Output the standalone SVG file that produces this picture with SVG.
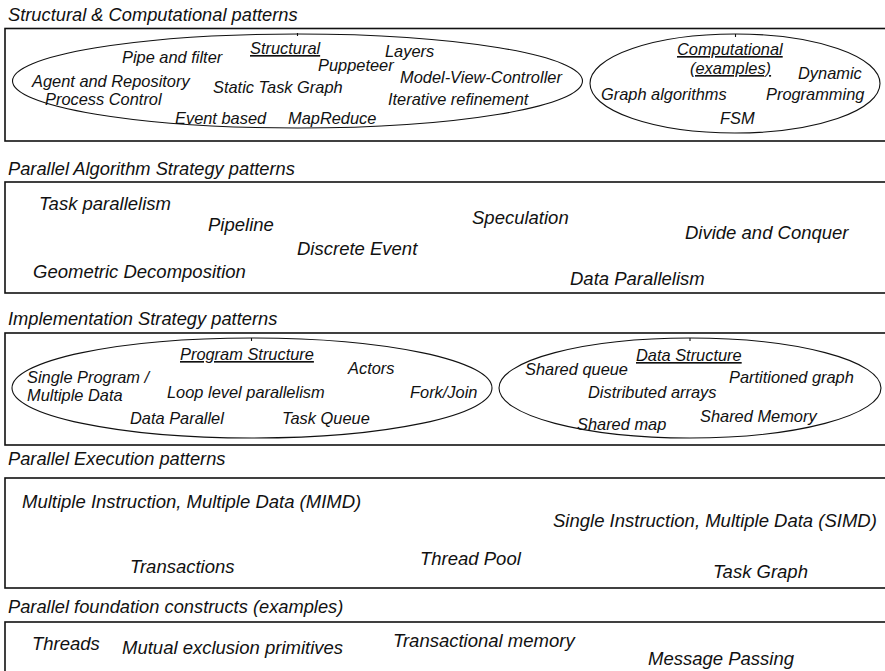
<svg xmlns="http://www.w3.org/2000/svg" width="885" height="671" viewBox="0 0 885 671">
  <style>
    text { font-family: "Liberation Sans", Arial, Helvetica, sans-serif; font-style: italic; fill: #111; }
    .title { font-size: 18.3px; }
    .item { font-size: 16.4px; }
    .big { font-size: 18.5px; }
    .head { font-size: 16.4px; text-decoration: underline; }
    .layer { fill: none; stroke: #111; stroke-width: 1.6; }
    .group { fill: none; stroke: #111; stroke-width: 1.1; }
  </style>
  <rect width="885" height="671" fill="#fff"/>

  <!-- Layer 1: structural and computational patterns -->
  <g id="layer-structural">
    <text class="title" x="8" y="21">Structural &amp; Computational patterns</text>
    <rect class="layer" x="5" y="28.5" width="890" height="112.5"/>
    <g id="structural">
      <ellipse class="group" cx="297.5" cy="81" rx="285" ry="47"/>
      <path class="group" d="M297.5 33v3"/>
      <text class="head" x="250" y="54">Structural</text>
      <text class="item" x="122" y="63">Pipe and filter</text>
      <text class="item" x="385" y="57">Layers</text>
      <text class="item" x="318" y="71">Puppeteer</text>
      <text class="item" x="400" y="83">Model-View-Controller</text>
      <text class="item" x="32" y="87">Agent and Repository</text>
      <text class="item" x="213" y="93">Static Task Graph</text>
      <text class="item" x="45" y="105">Process Control</text>
      <text class="item" x="388" y="105">Iterative refinement</text>
      <text class="item" x="175" y="124">Event based</text>
      <text class="item" x="288" y="124">MapReduce</text>
    </g>
    <g id="computational">
      <ellipse class="group" cx="735" cy="83.5" rx="145" ry="49.5"/>
      <path class="group" d="M735.5 34v3"/>
      <text class="head" x="677" y="55">Computational</text>
      <text class="head" x="690" y="74">(examples)</text>
      <text class="item" x="798" y="79">Dynamic</text>
      <text class="item" x="601" y="100">Graph algorithms</text>
      <text class="item" x="766" y="100">Programming</text>
      <text class="item" x="720" y="124">FSM</text>
    </g>
  </g>

  <!-- Layer 2: parallel algorithm strategy patterns -->
  <g id="layer-algorithm">
    <text class="title" x="8" y="175">Parallel Algorithm Strategy patterns</text>
    <rect class="layer" x="5" y="182" width="890" height="111"/>
    <text class="big" x="39" y="210">Task parallelism</text>
    <text class="big" x="208" y="231">Pipeline</text>
    <text class="big" x="297" y="255">Discrete Event</text>
    <text class="big" x="33" y="278">Geometric Decomposition</text>
    <text class="big" x="472" y="224">Speculation</text>
    <text class="big" x="685" y="239">Divide and Conquer</text>
    <text class="big" x="570" y="285">Data Parallelism</text>
  </g>

  <!-- Layer 3: implementation strategy patterns -->
  <g id="layer-implementation">
    <text class="title" x="8" y="325">Implementation Strategy patterns</text>
    <rect class="layer" x="5" y="333" width="890" height="112"/>
    <g id="program-structure">
      <ellipse class="group" cx="252" cy="388" rx="240" ry="50"/>
      <path class="group" d="M251.5 338v3"/>
      <text class="head" x="180" y="360">Program Structure</text>
      <text class="item" x="348" y="374">Actors</text>
      <text class="item" x="27" y="383">Single Program /</text>
      <text class="item" x="27" y="401">Multiple Data</text>
      <text class="item" x="167" y="398">Loop level parallelism</text>
      <text class="item" x="410" y="398">Fork/Join</text>
      <text class="item" x="130" y="424">Data Parallel</text>
      <text class="item" x="282" y="424">Task Queue</text>
    </g>
    <g id="data-structure">
      <ellipse class="group" cx="690" cy="388" rx="191" ry="50"/>
      <path class="group" d="M690 338v3"/>
      <text class="head" x="636" y="361">Data Structure</text>
      <text class="item" x="525" y="375">Shared queue</text>
      <text class="item" x="729" y="383">Partitioned graph</text>
      <text class="item" x="588" y="398">Distributed arrays</text>
      <text class="item" x="700" y="422">Shared Memory</text>
      <text class="item" x="577" y="430">Shared map</text>
    </g>
  </g>

  <!-- Layer 4: parallel execution patterns -->
  <g id="layer-execution">
    <text class="title" x="8" y="465">Parallel Execution patterns</text>
    <rect class="layer" x="5" y="478" width="890" height="110"/>
    <text class="big" x="22" y="508">Multiple Instruction, Multiple Data (MIMD)</text>
    <text class="big" x="553" y="527">Single Instruction, Multiple Data (SIMD)</text>
    <text class="big" x="420" y="565">Thread Pool</text>
    <text class="big" x="130" y="573">Transactions</text>
    <text class="big" x="713" y="578">Task Graph</text>
  </g>

  <!-- Layer 5: parallel foundation constructs -->
  <g id="layer-foundation">
    <text class="title" x="8" y="613">Parallel foundation constructs (examples)</text>
    <rect class="layer" x="5" y="622" width="890" height="80"/>
    <text class="big" x="32" y="650">Threads</text>
    <text class="big" x="122" y="654">Mutual exclusion primitives</text>
    <text class="big" x="393" y="647">Transactional memory</text>
    <text class="big" x="648" y="665">Message Passing</text>
  </g>
</svg>
